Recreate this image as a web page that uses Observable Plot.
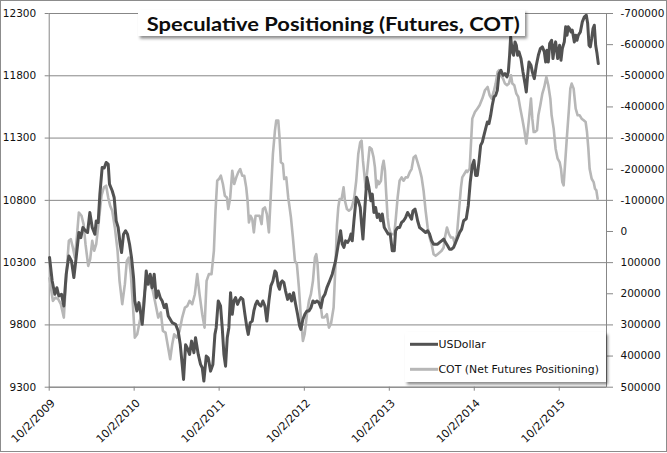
<!DOCTYPE html>
<html>
<head>
<meta charset="utf-8">
<script src="https://cdn.jsdelivr.net/npm/d3@7"></script>
<script src="https://cdn.jsdelivr.net/npm/@observablehq/plot@0.6"></script>
<style>
  html, body { margin: 0; padding: 0; background: #fff; }
  #wrap { position: relative; width: 667px; height: 453px; overflow: hidden; }
  #over { position: absolute; left: 0; top: 0; }
</style>
</head>
<body>
<div id="wrap"></div>
<script>
// ---------- DATA ----------
// time expressed as decimal years
const usdYear = [2009.755,2009.786,2009.817,2009.841,2009.864,2009.896,2009.923,2009.951,2009.982,2010.013,2010.041,2010.068,2010.100,2010.123,2010.147,2010.178,2010.202,2010.229,2010.257,2010.288,2010.304,2010.327,2010.347,2010.374,2010.398,2010.421,2010.445,2010.460,2010.492,2010.515,2010.539,2010.562,2010.586,2010.602,2010.625,2010.649,2010.672,2010.696,2010.719,2010.743,2010.758,2010.782,2010.806,2010.829,2010.845,2010.868,2010.892,2010.915,2010.939,2010.962,2010.986,2011.010,2011.033,2011.057,2011.080,2011.104,2011.127,2011.151,2011.174,2011.198,2011.237,2011.268,2011.292,2011.315,2011.331,2011.355,
2011.374,2011.402,2011.425,2011.453,2011.472,2011.504,2011.531,2011.551,2011.570,2011.598,2011.621,2011.649,2011.676,2011.700,2011.715,2011.739,2011.766,2011.786,2011.806,2011.825,2011.845,2011.864,2011.884,2011.904,2011.923,2011.943,2011.966,2011.982,2012.005,2012.029,2012.053,2012.076,2012.092,2012.115,2012.139,2012.158,2012.178,2012.198,2012.217,2012.241,2012.264,2012.288,2012.311,2012.335,2012.358,2012.382,2012.406,2012.421,2012.445,2012.460,2012.476,2012.492,2012.511,2012.531,2012.555,2012.578,2012.602,2012.625,2012.649,2012.672,2012.696,2012.711,2012.735,2012.758,2012.782,2012.806,2012.829,2012.853,2012.876,2012.900,2012.923,2012.947,2012.970,2012.994,2013.017,2013.049,
2013.080,2013.119,2013.158,2013.178,2013.198,2013.217,2013.237,2013.260,2013.284,2013.300,2013.315,2013.335,2013.362,2013.386,2013.409,2013.425,2013.441,2013.464,2013.488,2013.511,2013.535,2013.551,2013.570,2013.590,2013.609,2013.629,2013.649,2013.668,2013.692,2013.715,2013.739,2013.762,2013.786,2013.809,2013.825,2013.849,2013.872,2013.896,2013.919,2013.943,2013.966,2013.990,2014.013,2014.029,2014.053,2014.068,2014.084,2014.107,2014.131,2014.154,2014.178,2014.202,2014.225,2014.249,2014.272,2014.296,2014.319,2014.343,2014.366,2014.390,2014.413,2014.437,2014.460,2014.484,2014.507,2014.531,2014.555,2014.578,2014.602,2014.625,
2014.656,2014.680,2014.703,2014.727,2014.747,2014.766,2014.786,2014.805,2014.825,2014.845,2014.864,2014.884,2014.904,2014.923,2014.943,2014.962,2014.982,2015.002,2015.021,2015.041,2015.064,2015.088,2015.111,2015.135,2015.151,2015.166,2015.178,2015.198,2015.213,2015.229,2015.245,2015.260,2015.276,2015.300,2015.323,2015.347,2015.362,2015.378,2015.394,2015.417,2015.433,2015.456,2015.480,2015.504,2015.527,2015.551,2015.574,2015.590,2015.605,2015.621,2015.637,2015.660,2015.676,2015.692,2015.707,2015.731,2015.754,2015.770,2015.786,2015.809,2015.825,2015.841,2015.856,2015.872,2015.888,2015.903,2015.927,2015.943,2015.958,2015.974,2015.998,2016.021,2016.045,2016.068,2016.084,2016.100,2016.115,2016.131,2016.147,2016.162,2016.178,2016.194,2016.209];
const usdValue = [10341,10153,10046,10099,10032,10046,9952,10207,10354,10314,10180,10341,10542,10501,10582,10555,10542,10702,10582,10528,10635,10622,10850,11064,11059,11104,11091,10930,10877,10823,10635,10582,10448,10381,10528,10555,10528,10448,10341,10180,9992,9912,9979,9885,9805,9992,10233,10126,10207,10099,10207,10019,10073,10019,9992,9939,9965,9872,9845,9818,9805,9751,9644,9483,9362,9640,
9617,9563,9670,9577,9697,9563,9483,9456,9349,9550,9536,9429,9483,9724,9778,9992,9952,9778,9563,9469,9697,9778,10059,9885,9992,10019,9965,9992,10019,10005,9885,9778,9724,9818,9831,9912,9965,9992,9965,9952,9992,9952,9831,9992,10113,10153,10233,10220,10113,10086,10140,10153,10140,10072,10005,10046,9992,10059,9965,9885,9791,9764,9845,9885,9912,9912,9938,9992,9979,9992,9979,9938,10019,10046,10099,10153,
10207,10314,10475,10556,10448,10422,10475,10462,10489,10529,10475,10636,10824,10797,10743,10609,10489,10743,10984,10904,10797,10850,10703,10743,10663,10690,10636,10690,10582,10556,10529,10529,10395,10395,10556,10582,10582,10623,10636,10663,10703,10676,10649,10716,10730,10690,10636,10582,10569,10556,10542,10556,10529,10475,10448,10448,10448,10462,10475,10489,10462,10435,10408,10408,10422,10462,10502,10542,10569,10636,
10652,10759,10946,11080,11121,11000,11000,11107,11241,11268,11322,11375,11429,11415,11482,11563,11630,11643,11683,11817,11844,11804,11817,11791,11831,11965,12112,11992,11965,12072,12045,11965,11992,11938,11831,11737,11670,11804,11911,11884,11831,11777,11884,11965,12018,12032,11992,11911,12005,11911,12059,12085,11938,12032,12072,11938,12045,11925,12018,12072,12193,12126,12193,12179,12152,12166,12072,12126,12085,12126,12152,12233,12273,12286,12219,12045,12032,12099,12179,12206,12045,11978,11898];

const cotYear = [2009.755,2009.794,2009.825,2009.857,2009.888,2009.923,2009.951,2009.982,2010.005,2010.029,2010.053,2010.076,2010.100,2010.131,2010.155,2010.178,2010.210,2010.233,2010.257,2010.280,2010.304,2010.335,2010.366,2010.394,2010.421,2010.445,2010.468,2010.492,2010.523,2010.555,2010.578,2010.610,2010.641,2010.664,2010.688,2010.711,2010.735,2010.758,2010.786,2010.817,2010.845,2010.876,2010.907,2010.939,2010.970,2011.002,2011.033,2011.064,2011.088,2011.119,2011.143,2011.174,2011.198,2011.221,2011.253,2011.284,2011.315,2011.347,
2011.374,2011.402,2011.433,2011.464,2011.492,2011.519,2011.551,2011.578,2011.602,2011.629,2011.660,2011.688,2011.707,2011.727,2011.747,2011.770,2011.794,2011.817,2011.841,2011.857,2011.880,2011.904,2011.927,2011.951,2011.974,2011.998,2012.021,2012.045,2012.068,2012.084,2012.100,2012.119,2012.139,2012.158,2012.178,2012.202,2012.225,2012.249,2012.264,2012.288,2012.311,2012.335,2012.358,2012.382,2012.406,2012.421,2012.445,2012.460,2012.476,2012.500,2012.515,2012.539,2012.562,2012.594,2012.617,2012.641,2012.664,2012.688,2012.711,2012.735,2012.755,2012.782,2012.806,2012.829,2012.853,2012.876,2012.892,2012.907,2012.923,2012.947,2012.962,2012.986,2013.017,2013.041,
2013.065,2013.096,2013.119,2013.135,
2013.151,2013.166,2013.190,2013.213,2013.229,2013.253,2013.276,2013.300,2013.315,2013.339,2013.362,2013.386,2013.409,2013.425,2013.441,2013.457,2013.472,2013.496,2013.519,2013.543,2013.566,2013.582,2013.598,2013.613,2013.629,2013.653,2013.668,2013.684,2013.700,2013.715,2013.731,2013.747,2013.770,2013.786,2013.809,2013.825,2013.849,2013.872,2013.896,2013.919,2013.943,2013.966,2013.990,2014.013,2014.037,2014.060,2014.084,2014.107,2014.131,2014.154,2014.178,2014.202,2014.225,2014.249,2014.272,2014.296,2014.319,2014.343,2014.366,2014.390,2014.405,2014.429,2014.453,2014.476,2014.500,2014.523,2014.547,2014.570,2014.594,2014.609,2014.633,2014.656,
2014.668,2014.696,2014.727,2014.758,2014.786,2014.813,2014.845,2014.876,2014.907,2014.931,2014.954,2014.978,2015.002,2015.025,2015.041,2015.064,2015.088,2015.111,2015.135,2015.158,2015.182,2015.198,2015.221,2015.245,2015.268,2015.292,2015.315,2015.339,2015.362,2015.378,2015.394,2015.417,2015.433,2015.449,2015.464,2015.488,2015.504,2015.527,2015.551,2015.574,2015.598,2015.621,2015.645,2015.660,2015.684,2015.707,2015.731,2015.754,2015.770,2015.786,2015.801,2015.817,2015.841,2015.864,2015.880,2015.896,2015.919,2015.943,2015.966,2015.990,2016.013,2016.037,2016.060,2016.076,2016.092,2016.107,2016.131,2016.154,2016.170,2016.186,2016.201];
const cotValue = [150000,222800,212000,217000,233500,276400,147800,29900,24500,51300,83500,19200,-61200,-50500,-23700,40600,110300,88800,29900,62000,40600,-34400,-114800,-141600,-147000,-109400,-82600,-66600,-13000,62000,158500,233500,169200,94200,83500,137000,233500,340700,330000,287000,255000,190700,158500,169200,190700,233500,276400,260000,319300,324600,362000,410400,362000,330000,340700,319300,276400,244300,
240000,222800,233500,201400,137000,201400,265700,308600,158500,137000,137000,62000,-66600,-163000,-168400,-179100,-152300,-114800,-109400,-72000,-109400,-195200,-152300,-173700,-189800,-200500,-179100,-179100,-141600,-98700,-29000,-50500,-39800,3100,-50500,-50500,-50500,-23700,-72000,-77300,-55800,3100,-120200,-248800,-323800,-356000,-356000,-302400,-222000,-216600,-168400,-173700,-109400,-45100,19200,94200,105000,180000,276400,351400,330000,265700,222800,201400,158500,83500,72800,105000,180000,244300,276400,276400,265700,308600,
296000,244000,100000,-20000,
-77300,-104000,-104000,-141600,-98700,-71900,-66600,-71900,-82600,-109400,-163000,-248800,-286300,-291600,-227300,-184500,-141600,-205900,-270200,-264800,-238000,-205900,-141600,-163000,-152300,-163000,-205900,-227300,-195200,-120200,-45100,-13000,8500,8500,8500,-34400,-109400,-163000,-173700,-163000,-173700,-173700,-189800,-200500,-238000,-243400,-222000,-200500,-173700,-130900,-66600,-13000,19200,40600,72800,78100,72800,67400,62000,51300,19200,-13000,8500,19200,19200,40600,8500,-66600,-141600,-173700,-184500,-195200,
-190900,-201600,-362400,-383800,-394500,-405300,-426700,-453500,-464200,-437400,-426700,-448100,-474900,-512400,-517800,-501700,-491000,-474900,-469600,-474900,-501700,-474900,-469600,-442800,-432000,-394500,-362400,-324900,-282000,-319500,-362400,-426700,-362400,-319500,-319500,-324900,-373100,-405300,-442800,-464200,-496400,-469600,-426700,-373100,-330200,-265900,-233800,-223000,-201600,-158700,-148000,-212300,-308800,-394500,-458800,-474900,-458800,-394500,-373100,-373100,-362400,-357000,-351700,-319500,-265900,-201600,-169400,-158700,-137300,-132000,-105100];

const leftTicks = [9300, 9800, 10300, 10800, 11300, 11800, 12300];
const rightTicks = [-700000, -600000, -500000, -400000, -300000, -200000, -100000, 0, 100000, 200000, 300000, 400000, 500000];
const xTickDates = ["2009-10-02", "2010-10-02", "2011-10-02", "2012-10-02", "2013-10-02", "2014-10-02", "2015-10-02"];
const xTickLabels = ["10/2/2009", "10/2/2010", "10/2/2011", "10/2/2012", "10/2/2013", "10/2/2014", "10/2/2015"];
const xDomain = ["2009-10-02", "2016-04-22"];
const seriesNames = ["USDollar", "COT (Net Futures Positioning)"];
const titleText = "Speculative Positioning (Futures, COT)";

// ---------- helpers ----------
const T0 = Date.UTC(2009, 9, 2);
const toDate = yr => new Date(T0 + (yr - 2009.751) * 365.25 * 864e5);
// right axis (COT, inverted) mapped onto left axis scale: -700000 <-> 12300, 500000 <-> 9300
const cotToLeft = c => 12300 - (c + 700000) / 400;
const leftToCot = v => Math.round((12300 - v) * 400 - 700000);

const usd = usdYear.map((t, i) => ({date: toDate(t), v: usdValue[i]}));
const cot = cotYear.map((t, i) => ({date: toDate(t), v: cotToLeft(cotValue[i])}));
const tickDates = xTickDates.map(s => new Date(s));

const DARK = "#525252", LIGHT = "#b7b7b7", GRID = "#878787";

const chart = Plot.plot({
  width: 667,
  height: 453,
  marginLeft: 48.7,
  marginRight: 61,
  marginTop: 13,
  marginBottom: 66.3,
  style: {fontFamily: "DejaVu Sans", fontSize: "10.5px", background: "#fff", color: "#111"},
  x: {type: "utc", domain: xDomain.map(s => new Date(s))},
  y: {domain: [9300, 12300]},
  marks: [
    Plot.ruleY(leftTicks, {stroke: GRID, strokeWidth: 1}),
    Plot.frame({stroke: GRID, strokeWidth: 1}),
    Plot.axisY({ticks: leftTicks, tickSize: 4, tickPadding: 9, stroke: GRID, fill: "#111", tickFormat: d => String(d), label: null}),
    Plot.axisY({anchor: "right", ticks: rightTicks.map(cotToLeft), tickSize: 6, tickPadding: 8, stroke: GRID, fill: "#111", tickFormat: v => String(leftToCot(v)), label: null}),
    Plot.axisX({ticks: tickDates, tickSize: 4, stroke: GRID, tickFormat: () => "", label: null}),
    Plot.text(tickDates, {x: d => d, text: (d, i) => xTickLabels[i], frameAnchor: "bottom", rotate: -45, textAnchor: "end", lineAnchor: "middle", dx: 4, dy: 14, fontSize: 11, fill: "#111"}),
    Plot.line(cot, {x: "date", y: "v", stroke: LIGHT, strokeWidth: 2.6, strokeLinejoin: "round"}),
    Plot.line(usd, {x: "date", y: "v", stroke: DARK, strokeWidth: 3, strokeLinejoin: "round"})
  ]
});
const wrap = document.getElementById("wrap");
wrap.appendChild(chart);

// overlay: title box, legend box, outer border
const NS = "http://www.w3.org/2000/svg";
const over = document.createElementNS(NS, "svg");
over.setAttribute("id", "over");
over.setAttribute("width", 667);
over.setAttribute("height", 453);
over.innerHTML = `
  <defs>
    <filter id="sh" x="-10%" y="-20%" width="130%" height="160%">
      <feDropShadow dx="2" dy="2.5" stdDeviation="1.4" flood-color="#000" flood-opacity="0.45"/>
    </filter>
  </defs>
  <rect x="138" y="10" width="387" height="26" fill="#fff" filter="url(#sh)"/>
  <text x="146.7" y="30.6" font-family="Lato" font-weight="bold" font-size="18.5" fill="#0d0d0d"
        textLength="373" lengthAdjust="spacingAndGlyphs">${titleText}</text>
  <rect x="405" y="332" width="201" height="50" fill="#fff" filter="url(#sh)"/>
  <line x1="410" x2="438" y1="344.3" y2="344.3" stroke="${DARK}" stroke-width="3"/>
  <text x="438.5" y="348.2" font-family="DejaVu Sans" font-size="10.9" fill="#111">${seriesNames[0]}</text>
  <line x1="410" x2="438" y1="369.3" y2="369.3" stroke="${LIGHT}" stroke-width="3"/>
  <text x="438.5" y="373.2" font-family="DejaVu Sans" font-size="10.9" fill="#111">${seriesNames[1]}</text>
  <rect x="0.5" y="0.5" width="666" height="451" fill="none" stroke="#8c8c8c"/>
`;
wrap.appendChild(over);
</script>
</body>
</html>
